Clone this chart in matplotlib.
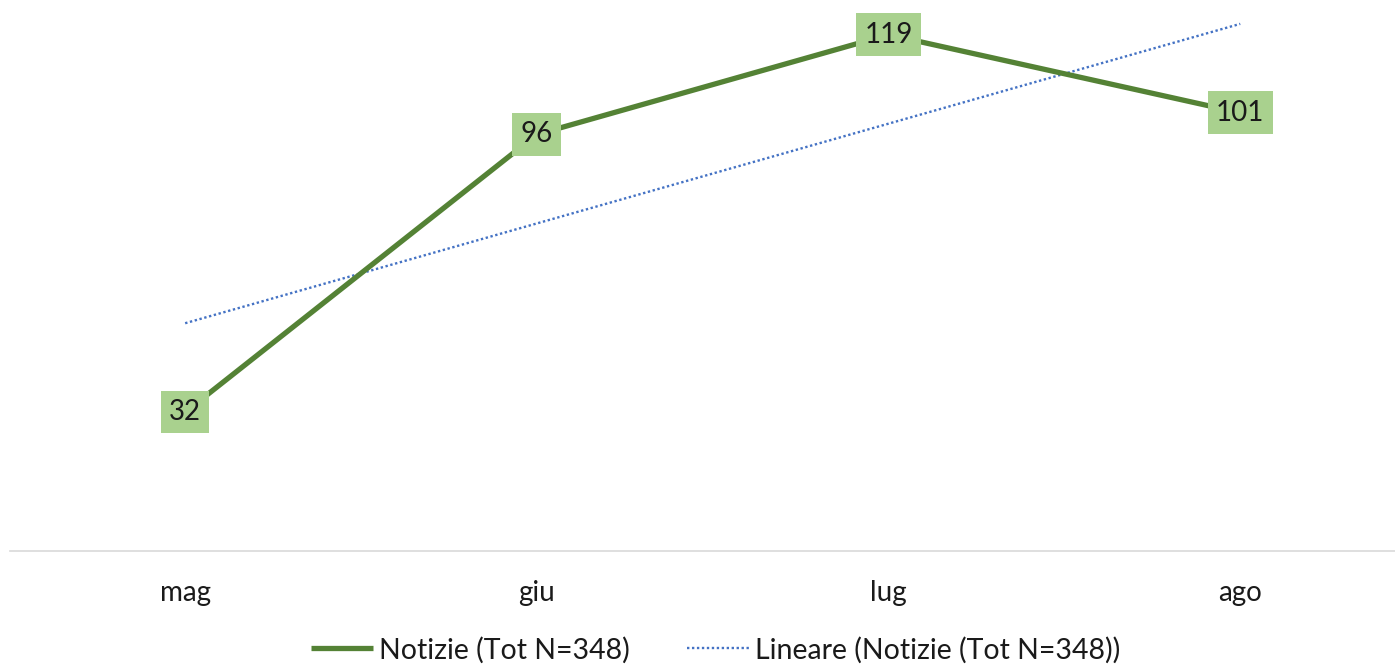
import matplotlib.pyplot as plt
import numpy as np

plt.rcParams["font.family"] = ["Lato", "DejaVu Sans"]

months = ["mag", "giu", "lug", "ago"]
notizie = [32, 96, 119, 101]
series_label = "Notizie (Tot N=348)"
trend_label = "Lineare (Notizie (Tot N=348))"

x = np.arange(len(months))
# linear trendline like Excel's
slope, intercept = np.polyfit(x, notizie, 1)
trend = slope * x + intercept

fig = plt.figure(figsize=(13.95, 6.68), dpi=100)
ax = fig.add_axes([10 / 1395, 117 / 668, 1 - 10 / 1395, 551 / 668])

ax.plot(x, notizie, color="#548235", linewidth=3.8, label=series_label,
        solid_capstyle="butt", zorder=3)
ax.plot(x, trend, color="#4472c4", linewidth=1.7, linestyle=(0, (1, 1.1)),
        label=trend_label, zorder=2)

for xi, v in zip(x, notizie):
    ax.text(xi, v, str(v), ha="center", va="center", fontsize=20,
            color="#1a1a1a", zorder=4,
            bbox=dict(boxstyle="square,pad=0.3", fc="#a9d18e", ec="none"))

ax.set_xlim(-0.498, 3.44)
ax.set_ylim(0, 127)
ax.set_xticks(x)
ax.set_xticklabels(months, fontsize=20, color="#1a1a1a")
ax.tick_params(axis="x", length=0, pad=21)
ax.set_yticks([])
for side in ["top", "right", "left"]:
    ax.spines[side].set_visible(False)
ax.spines["bottom"].set_color("#d9d9d9")
ax.spines["bottom"].set_linewidth(1.2)

fig.legend(loc="center", bbox_to_anchor=(0.513, 1 - 650 / 668), ncol=2,
           frameon=False, fontsize=20.5, handlelength=2.2, handletextpad=0.2,
           columnspacing=2.0, labelcolor="#1a1a1a")

fig.savefig("out.png", dpi=100)
plt.close()
